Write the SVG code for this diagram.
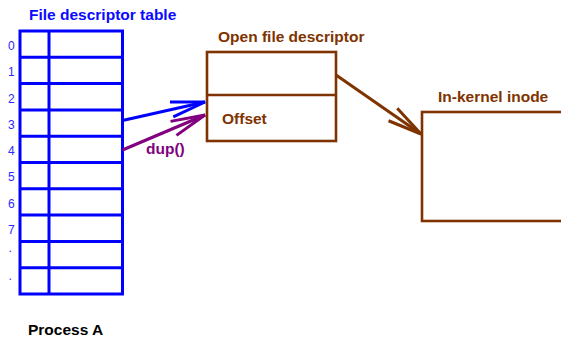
<svg xmlns="http://www.w3.org/2000/svg" width="561" height="340" viewBox="0 0 561 340">
  <style>
    .tbl { fill: none; stroke: #0000ff; stroke-width: 3; }
    .num { font-family: "Liberation Sans", Arial, sans-serif; font-size: 12px; fill: #2a2aff; }
    .title { font-family: "Liberation Sans", Arial, sans-serif; font-size: 15.5px; font-weight: bold; }
    .blue { fill: #0a0aff; }
    .brown { fill: #7f3300; }
    .purple { fill: #800080; }
    .black { fill: #000000; }
    .box { fill: none; stroke: #7f3300; stroke-width: 2.6; }
    .arr { fill: none; stroke-width: 3; }
  </style>
  <defs>
    <marker id="hb" markerUnits="userSpaceOnUse" markerWidth="50" markerHeight="30" refX="0" refY="0" viewBox="-40 -15 50 30" orient="auto" overflow="visible">
      <path d="M-34.2,-7.6 L0,0 L-34.2,7.6" fill="none" stroke="#0000ff" stroke-width="3" stroke-linejoin="miter"/>
    </marker>
    <marker id="hp" markerUnits="userSpaceOnUse" markerWidth="50" markerHeight="30" refX="0" refY="0" viewBox="-40 -15 50 30" orient="auto" overflow="visible">
      <path d="M-34.2,-7.6 L0,0 L-34.2,7.6" fill="none" stroke="#800080" stroke-width="3" stroke-linejoin="miter"/>
    </marker>
    <marker id="hr" markerUnits="userSpaceOnUse" markerWidth="50" markerHeight="30" refX="0" refY="0" viewBox="-40 -15 50 30" orient="auto" overflow="visible">
      <path d="M-34.2,-7.6 L0,0 L-34.2,7.6" fill="none" stroke="#7f3300" stroke-width="3" stroke-linejoin="miter"/>
    </marker>
  </defs>

  <g id="fd-table">
    <text class="title blue" x="29" y="19.5">File descriptor table</text>
    <rect class="tbl" x="20" y="31" width="102.5" height="263"/>
    <line class="tbl" x1="49" y1="31" x2="49" y2="294"/>
    <path class="tbl" d="M20,57.3H122.5 M20,83.6H122.5 M20,109.9H122.5 M20,136.2H122.5 M20,162.5H122.5 M20,188.8H122.5 M20,215.1H122.5 M20,241.4H122.5 M20,267.7H122.5"/>
    <g class="num">
      <text x="8" y="50">0</text>
      <text x="8" y="76">1</text>
      <text x="8" y="102.5">2</text>
      <text x="8" y="128.5">3</text>
      <text x="8" y="155">4</text>
      <text x="8" y="181">5</text>
      <text x="8" y="207.5">6</text>
      <text x="8" y="234">7</text>
      <text x="8.5" y="252">.</text>
      <text x="8.5" y="280">.</text>
    </g>
  </g>

  <g id="open-file-descriptor">
    <text class="title brown" x="218" y="42">Open file descriptor</text>
    <rect class="box" x="207" y="52" width="129" height="89"/>
    <line class="box" x1="207" y1="95" x2="336" y2="95"/>
    <text class="title brown" x="222" y="124">Offset</text>
  </g>

  <g id="inode">
    <text class="title brown" x="438" y="102">In-kernel inode</text>
    <rect class="box" x="422" y="112" width="160" height="109"/>
  </g>

  <g id="process-label">
    <text class="title black" x="28" y="335">Process A</text>
  </g>

  <g id="connectors">
    <line class="arr" x1="122.5" y1="120.5" x2="205" y2="102" stroke="#0000ff" marker-end="url(#hb)"/>
    <line class="arr" x1="122.5" y1="150" x2="205" y2="115" stroke="#800080" marker-end="url(#hp)"/>
    <text class="title purple" x="146" y="154">dup()</text>
    <line class="arr" x1="336" y1="75" x2="421" y2="134" stroke="#7f3300" marker-end="url(#hr)"/>
  </g>
</svg>
